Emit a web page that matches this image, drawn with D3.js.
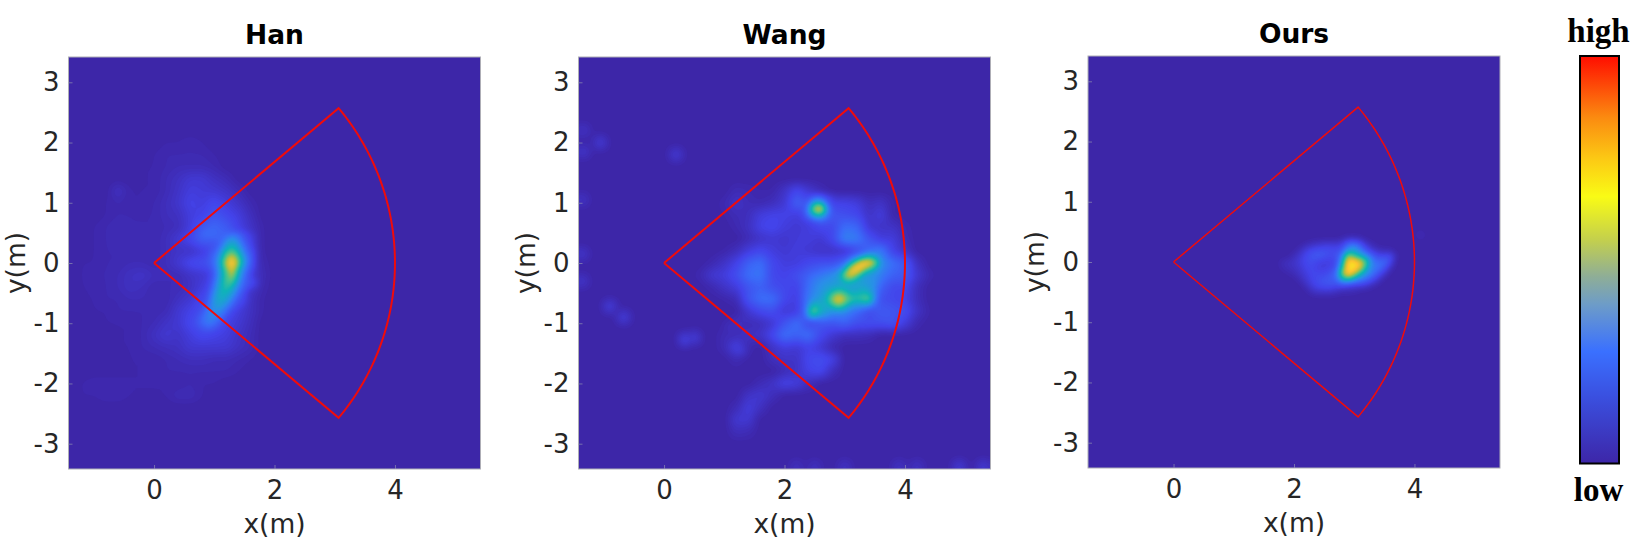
<!DOCTYPE html>
<html>
<head>
<meta charset="utf-8">
<script src="https://cdn.jsdelivr.net/npm/d3@7"></script>
<style>
html,body{margin:0;padding:0;background:#fff;}
svg{display:block;}
</style>
</head>
<body>
<svg id="chart" width="1651" height="540"></svg>
<script>
// ---- tick labels and titles
const panelTitles = ["Han", "Wang", "Ours"];
const xTicks = [0, 2, 4];
const yTicks = [-3, -2, -1, 0, 1, 2, 3];
const xDomain = [-1.42, 5.42];
const yDomain = [-3.42, 3.42];
const sectorRadius = 4;
const sectorHalfAngleDeg = 40;

// ---- colour scale of the maps (value in %, colour)
const heatStops = [0, 12, 25, 35, 50, 62, 75, 88, 100];
const heatColors = ["#3d26a8", "#4343ea", "#3a6cf8", "#2a8fe8", "#0fb4b8", "#4bc48a", "#b5c040", "#fbc330", "#f9e820"];
// ---- colour bar stops
const barStops = [0, 0.165, 0.275, 0.39, 0.46, 0.55, 0.655, 0.75, 0.85, 1];
const barColors = ["#3d26a8", "#3a50e0", "#3a70ff", "#6d9cc8", "#8fae96", "#c4d04c", "#f9fb15", "#fcc814", "#fb8a10", "#ff0d00"];

// ---- Han: coarse field, step 0.2 m, from x=-1.2, top row y=2.0
const hanCoarse = [
 [0,0,0,0,0,0,0,1,1,2,1,0,0,0,0,0],
 [0,0,0,0,0,0,1,2,2,2,2,1,0,0,0,0],
 [0,0,0,0,0,1,1,2,3,3,3,2,0,0,0,0],
 [0,0,0,0,0,1,1,3,5,8,8,5,3,0,0,0],
 [0,0,0,5,1,1,1,3,6,10,9,8,6,3,0,0],
 [0,0,1,2,1,1,2,4,7,12,10,14,10,6,2,0],
 [0,0,1,2,2,2,2,4,5,10,12,18,14,10,4,0],
 [0,1,2,3,2,2,2,3,4,10,20,24,20,12,6,1],
 [0,1,2,3,3,2,2,4,8,14,22,22,24,16,6,1],
 [0,1,2,2,2,2,2,4,6,6,10,12,18,14,6,1],
 [1,1,2,2,3,3,2,4,8,14,16,20,24,18,8,2],
 [1,2,2,3,5,6,4,3,3,6,8,10,14,14,10,3],
 [1,1,2,3,5,4,2,3,3,5,10,14,20,14,8,2],
 [1,1,2,2,3,3,2,2,5,8,14,20,20,12,5,1],
 [0,1,1,2,2,2,2,3,8,12,16,18,14,10,5,1],
 [0,0,1,1,1,2,3,6,8,14,18,18,12,8,4,0],
 [0,0,0,1,1,2,5,8,6,10,14,12,10,6,3,0],
 [0,0,0,1,1,2,3,4,5,8,8,8,8,5,3,0],
 [0,0,0,0,1,1,1,2,3,4,4,3,3,2,1,0],
 [0,0,1,1,1,1,1,2,2,2,2,2,2,1,0,0],
 [1,2,1,1,1,1,1,1,1,2,1,1,0,0,0,0],
 [1,1,2,2,1,1,1,1,3,3,1,0,0,0,0,0]
];
// Han: core, step 0.1 m, from x=0.7, top row y=0.5
const hanCore = [
 [20,28,30,28,22,18,24,22,16,10,5],
 [8,10,12,14,18,32,38,30,18,12,6],
 [0,8,12,16,24,40,50,38,24,14,6],
 [0,0,16,20,32,54,62,48,28,18,8],
 [0,0,18,24,40,68,84,60,36,22,8],
 [0,0,18,26,44,80,100,70,38,22,8],
 [0,0,14,22,40,66,88,52,30,18,8],
 [0,0,10,20,40,60,80,44,26,14,0],
 [0,0,12,24,44,62,64,38,22,16,12],
 [0,0,14,28,48,58,50,30,20,14,8],
 [0,0,18,34,50,50,40,24,16,0,0],
 [0,0,20,40,48,44,30,18,12,8,0],
 [0,14,24,40,42,34,22,14,12,0,0],
 [12,18,30,36,34,24,14,10,0,0,0],
 [16,24,32,32,26,16,10,0,0,0,0],
 [18,24,30,26,18,12,0,0,0,0,0],
 [12,18,20,18,12,10,0,0,0,0,0],
 [0,8,10,8,0,0,0,0,0,0,0]
];
const hanSpots = [];

// ---- Wang: coarse field, step 0.2 m, from x=0.6, top row y=1.2
const wangCoarse = [
 [0,0,0,3,2,1,1,6,14,8,3,0,0,0,0,0,0,0,0,0,0],
 [0,0,2,6,3,2,4,8,22,16,22,12,12,10,4,6,1,0,0,0,0],
 [0,0,1,3,4,10,12,12,10,14,28,18,16,14,6,10,1,0,0,0,0],
 [0,0,0,2,5,12,14,10,8,10,14,14,26,24,8,6,6,2,0,0,0],
 [0,0,0,0,3,6,8,7,9,10,8,14,32,30,18,10,10,3,0,0,0],
 [0,0,1,4,10,14,10,8,10,8,6,6,6,14,24,30,12,6,0,0,0],
 [0,2,6,12,22,26,14,10,10,14,16,16,24,50,85,36,26,20,5,0,0],
 [2,8,10,16,26,28,14,12,16,22,28,34,50,46,36,30,22,20,8,2,0],
 [0,2,6,10,18,22,16,14,12,26,36,42,40,42,38,22,14,14,4,0,0],
 [0,0,1,3,18,26,26,14,10,30,40,60,50,48,48,16,14,12,4,0,0],
 [0,0,0,0,8,14,16,8,10,30,50,36,32,24,14,20,18,16,6,1,0],
 [0,0,0,5,3,4,8,18,26,14,18,18,22,16,16,16,18,10,2,0,0],
 [0,0,3,3,5,6,14,26,22,26,14,8,4,4,3,0,0,0,0,0,0],
 [0,0,3,12,2,0,6,10,8,12,8,2,0,0,0,0,0,0,0,0,0],
 [0,0,0,3,0,0,4,6,6,14,16,12,0,0,0,0,0,0,0,0,0],
 [0,0,0,0,0,0,0,3,6,12,14,4,0,0,0,0,0,0,0,0,0],
 [0,0,0,0,0,3,6,12,10,4,0,0,0,0,0,0,0,0,0,0,0],
 [0,0,0,0,6,8,4,0,0,0,0,0,0,0,0,0,0,0,0,0,0],
 [0,0,0,3,10,5,0,0,0,0,0,0,0,0,0,0,0,0,0,0,0],
 [0,0,0,8,8,0,0,0,0,0,0,0,0,0,0,0,0,0,0,0,0],
 [0,0,0,4,3,0,0,0,0,0,0,0,0,0,0,0,0,0,0,0,0]
];
// Wang: main core, step 0.1 m, from x=2.4, top row y=0.1
const wangCore = [
 [8,8,8,8,8,10,12,14,24,42,50,44,26,22,18],
 [14,14,16,16,16,18,26,46,76,98,100,80,38,26,24],
 [18,20,22,24,26,28,44,84,100,82,50,36,30,24,22],
 [22,26,28,32,34,36,76,90,68,42,38,34,30,24,20],
 [26,30,34,36,38,38,52,52,42,38,38,36,28,20,16],
 [26,32,36,40,42,44,42,40,42,44,40,34,22,14,14],
 [28,34,38,44,56,68,60,46,48,52,48,34,18,14,14],
 [30,36,42,50,76,92,76,62,56,62,70,32,16,14,14],
 [38,52,46,42,58,70,56,40,38,36,34,22,18,16,18],
 [50,72,46,36,36,38,36,30,26,22,16,16,20,18,18],
 [42,42,30,24,22,24,24,22,18,14,14,16,18,16,16]
];
// Wang: small bright spot, step 0.1 m, from x=2.3, top row y=1.1
const wangSpotCore = [
 [10,14,20,20,12,10],
 [12,24,44,48,24,12],
 [14,34,84,96,40,16],
 [14,28,48,54,30,18],
 [10,14,20,22,20,16]
];
// Wang: isolated faint patches [x, y, value]
const wangSpots = [
 [-1.06,2.0,9],[0.2,1.8,9],[-1.34,2.2,6],[-1.34,1.85,7],[-1.36,1.05,6],[-1.36,0.15,7],[-1.36,-0.3,7],
 [-0.9,-0.72,10],[-0.67,-0.9,10],[0.35,-1.27,12],[0.5,-1.24,10],[1.26,-1.44,11],[1.1,-1.07,5],
 [2.2,-3.38,5],[2.5,-3.38,5],[3.0,-3.38,6],[3.9,-3.38,6],[4.2,-3.38,6],[4.9,-3.38,9],[5.3,-3.38,9]
];

// ---- Ours: step 0.1 m, from x=1.7, top row y=0.4
const oursCore = [
 [0,0,0,0,0,0,0,0,0,0,0,1,3,3,2,0,0,0,0,0,0],
 [0,0,0,0,0,2,4,6,8,8,8,10,24,26,18,6,2,0,0,0,0],
 [0,0,0,0,4,10,14,16,16,16,14,18,36,44,30,16,8,4,2,2,0],
 [0,0,0,4,8,14,18,20,18,14,16,30,78,56,48,36,22,14,14,16,2],
 [0,3,5,6,10,14,16,12,10,10,14,40,100,100,88,64,30,24,26,14,0],
 [0,2,4,5,8,12,14,10,10,12,18,54,100,100,84,48,30,28,18,4,0],
 [0,0,1,3,6,10,14,14,14,18,24,72,100,74,48,36,28,16,6,0,0],
 [0,0,0,0,3,8,12,16,18,20,22,42,44,34,28,22,14,6,0,0,0],
 [0,0,0,0,0,4,10,14,16,16,14,12,10,8,8,6,2,0,0,0,0],
 [0,0,0,0,0,0,4,6,6,6,4,2,2,2,0,0,0,0,0,0,0]
];
const oursSpots = [[4.1,0.45,2]];

// ---- panels (frames in page pixels)
const panels = [
  {title:panelTitles[0], left:68.5, top:57, lw:2,
   grids:[{x0:-1.2,y0:2.0,step:0.2,rows:hanCoarse},{x0:0.7,y0:0.5,step:0.1,rows:hanCore}], spots:hanSpots},
  {title:panelTitles[1], left:578.5, top:57, lw:2,
   grids:[{x0:0.6,y0:1.2,step:0.2,rows:wangCoarse},{x0:2.4,y0:0.1,step:0.1,rows:wangCore},{x0:2.3,y0:1.1,step:0.1,rows:wangSpotCore}], spots:wangSpots},
  {title:panelTitles[2], left:1088, top:56, lw:1.5,
   grids:[{x0:1.7,y0:0.4,step:0.1,rows:oursCore}], spots:oursSpots}
];
const plotSize = 412;

const svg = d3.select("#chart");
const FONT = "'DejaVu Sans', sans-serif";
const color = d3.scaleLinear().domain(heatStops).range(heatColors).clamp(true);
const thresholds = d3.range(1, 100, 1);

function sampleGrid(g, x, y){
  const fx = (x - g.x0) / g.step, fy = (g.y0 - y) / g.step;
  const i = Math.floor(fx), j = Math.floor(fy);
  const nr = g.rows.length, nc = g.rows[0].length;
  if (i < -1 || j < -1 || i >= nc || j >= nr) return 0;
  const at = (a, b) => (a < 0 || b < 0 || a >= nc || b >= nr) ? 0 : g.rows[b][a];
  const u = fx - i, v = fy - j;
  return (at(i,j)*(1-u) + at(i+1,j)*u)*(1-v) + (at(i,j+1)*(1-u) + at(i+1,j+1)*u)*v;
}

panels.forEach((p, idx) => {
  const x = d3.scaleLinear().domain(xDomain).range([p.left, p.left + plotSize]);
  const y = d3.scaleLinear().domain(yDomain).range([p.top + plotSize, p.top]);
  const n = 206;
  const cell = plotSize / n;
  const field = new Float64Array(n * n);
  for (let j = 0; j < n; j++) for (let i = 0; i < n; i++) {
    const mx = x.invert(p.left + (i + 0.5) * cell);
    const my = y.invert(p.top + (j + 0.5) * cell);
    let v = 0;
    p.grids.forEach(g => { v = Math.max(v, sampleGrid(g, mx, my)); });
    p.spots.forEach(s => {
      const a = Math.max(0, 1 - Math.abs(mx - s[0]) / 0.2), b = Math.max(0, 1 - Math.abs(my - s[1]) / 0.2);
      v = Math.max(v, s[2] * a * b);
    });
    field[j * n + i] = v;
  }
  d3.blur2({data: field, width: n, height: n}, 0.9);

  const clipId = "clip" + idx;
  svg.append("clipPath").attr("id", clipId).append("rect")
    .attr("x", p.left).attr("y", p.top).attr("width", plotSize).attr("height", plotSize);
  const g = svg.append("g").attr("clip-path", `url(#${clipId})`);
  g.append("rect").attr("x", p.left).attr("y", p.top).attr("width", plotSize).attr("height", plotSize)
    .attr("fill", color(0));

  const toPage = d3.geoTransform({point(a, b){ this.stream.point(p.left + a * cell, p.top + b * cell); }});
  const path = d3.geoPath(toPage);
  const cs = d3.contours().size([n, n]).thresholds(thresholds)(Array.from(field));
  g.selectAll("path.lvl").data(cs).join("path").attr("class", "lvl")
    .attr("d", path).attr("fill", d => color(d.value)).attr("stroke", "none");

  // sector outline
  const arcPts = d3.range(-sectorHalfAngleDeg, sectorHalfAngleDeg + 0.5, 1).map(d => {
    const t = d * Math.PI / 180;
    return [sectorRadius * Math.cos(t), sectorRadius * Math.sin(t)];
  });
  const outline = [[0, 0], ...arcPts, [0, 0]];
  g.append("path").datum(outline)
    .attr("d", d3.line().x(d => x(d[0])).y(d => y(d[1])))
    .attr("fill", "none").attr("stroke", "#f00b0b").attr("stroke-width", p.lw).attr("stroke-linejoin", "miter");

  // frame and axes
  svg.append("rect").attr("x", p.left).attr("y", p.top).attr("width", plotSize).attr("height", plotSize)
    .attr("fill", "none").attr("stroke", "#aeaeb6").attr("stroke-width", 1);

  const bottom = svg.append("g").attr("transform", `translate(0,${p.top + plotSize})`)
    .call(d3.axisBottom(x).tickValues(xTicks).tickFormat(String).tickSizeOuter(0).tickSizeInner(-4).tickPadding(12));
  const left = svg.append("g").attr("transform", `translate(${p.left},0)`)
    .call(d3.axisLeft(y).tickValues(yTicks).tickFormat(String).tickSizeOuter(0).tickSizeInner(-4).tickPadding(9));
  [bottom, left].forEach(a => {
    a.select(".domain").remove();
    a.selectAll(".tick line").attr("stroke", "#8f8fb0").attr("stroke-width", 0.7);
    a.selectAll("text").attr("font-family", FONT).attr("font-size", 26).attr("fill", "#262626");
  });

  svg.append("text").attr("x", p.left + plotSize / 2).attr("y", p.top - 13)
    .attr("text-anchor", "middle").attr("font-family", FONT).attr("font-weight", "bold")
    .attr("font-size", 26.5).attr("fill", "#000").text(p.title);
  svg.append("text").attr("x", p.left + plotSize / 2).attr("y", p.top + plotSize + 64)
    .attr("text-anchor", "middle").attr("font-family", FONT).attr("font-size", 26.5).attr("fill", "#262626").text("x(m)");
  svg.append("text").attr("transform", `translate(${p.left - 44},${p.top + plotSize / 2}) rotate(-90)`)
    .attr("text-anchor", "middle").attr("font-family", FONT).attr("font-size", 26.5).attr("fill", "#262626").text("y(m)");
});

// ---- colour bar
const defs = svg.append("defs");
const grad = defs.append("linearGradient").attr("id", "barGrad").attr("x1", 0).attr("y1", 1).attr("x2", 0).attr("y2", 0);
grad.selectAll("stop").data(barStops).join("stop")
  .attr("offset", d => d).attr("stop-color", (d, i) => barColors[i]);
svg.append("rect").attr("x", 1580).attr("y", 56).attr("width", 39).attr("height", 407.5)
  .attr("fill", "url(#barGrad)").attr("stroke", "#000").attr("stroke-width", 2);
svg.append("text").attr("x", 1598.5).attr("y", 42).attr("text-anchor", "middle")
  .attr("font-family", "'Liberation Serif', serif").attr("font-weight", "bold").attr("font-size", 33).attr("fill", "#000").text("high");
svg.append("text").attr("x", 1598.5).attr("y", 501).attr("text-anchor", "middle")
  .attr("font-family", "'Liberation Serif', serif").attr("font-weight", "bold").attr("font-size", 33).attr("fill", "#000").text("low");
</script>
</body>
</html>
